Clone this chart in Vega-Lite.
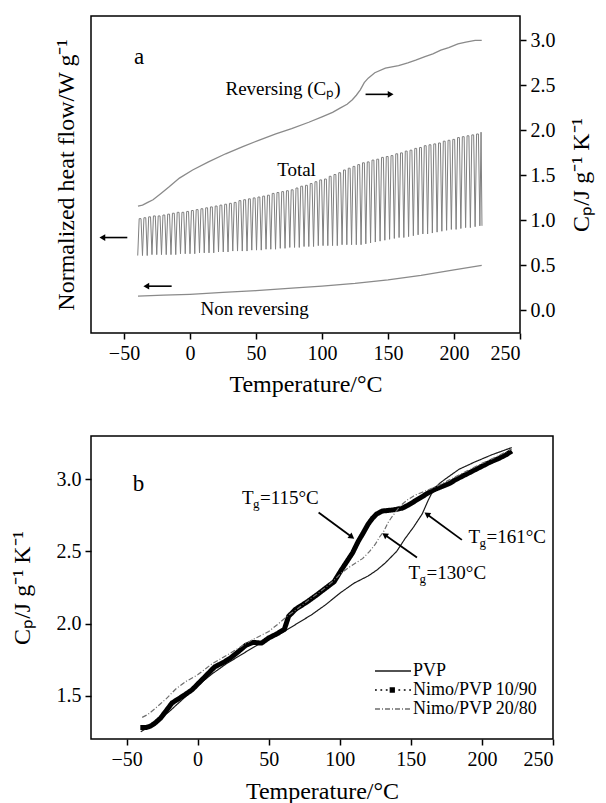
{
"$schema":"https://vega.github.io/schema/vega-lite/v6.json",
"padding":{"left":9,"top":15,"right":2,"bottom":0},
"spacing":38,
"resolve":{"legend":{"color":"independent"}},
"config":{
 "font":"Liberation Serif",
 "view":{"stroke":"black","strokeWidth":1.5},
 "axis":{"labelFont":"Liberation Serif","titleFont":"Liberation Serif","labelFontSize":20,"titleFontSize":24,"titleFontWeight":"normal","labelColor":"black","titleColor":"black","domain":false,"grid":false,"tickColor":"black","tickSize":6,"tickWidth":1.5,"labelPadding":4},
 "text":{"font":"Liberation Serif","color":"black"}
},
"datasets":{
 "total":[
{"t":-39.6,"v":0.61},{"t":-38.5,"v":1.02},{"t":-37.1,"v":1.02},
{"t":-36,"v":0.61},{"t":-34.9,"v":1.03},{"t":-33.5,"v":1.03},
{"t":-32.4,"v":0.61},{"t":-31.3,"v":1.04},{"t":-29.9,"v":1.04},
{"t":-28.8,"v":0.62},{"t":-27.7,"v":1.05},{"t":-26.3,"v":1.05},
{"t":-25.2,"v":0.62},{"t":-24.1,"v":1.05},{"t":-22.7,"v":1.05},
{"t":-21.6,"v":0.62},{"t":-20.5,"v":1.06},{"t":-19.1,"v":1.06},
{"t":-18,"v":0.62},{"t":-16.9,"v":1.07},{"t":-15.5,"v":1.07},
{"t":-14.4,"v":0.62},{"t":-13.3,"v":1.08},{"t":-11.9,"v":1.08},
{"t":-10.8,"v":0.62},{"t":-9.7,"v":1.09},{"t":-8.3,"v":1.09},
{"t":-7.2,"v":0.63},{"t":-6.1,"v":1.09},{"t":-4.7,"v":1.09},
{"t":-3.6,"v":0.63},{"t":-2.5,"v":1.10},{"t":-1.1,"v":1.10},
{"t":0,"v":0.63},{"t":1.1,"v":1.11},{"t":2.5,"v":1.11},
{"t":3.6,"v":0.63},{"t":4.7,"v":1.12},{"t":6.1,"v":1.12},
{"t":7.2,"v":0.64},{"t":8.3,"v":1.13},{"t":9.7,"v":1.13},
{"t":10.8,"v":0.64},{"t":11.9,"v":1.14},{"t":13.3,"v":1.14},
{"t":14.4,"v":0.64},{"t":15.5,"v":1.15},{"t":16.9,"v":1.15},
{"t":18,"v":0.64},{"t":19.1,"v":1.16},{"t":20.5,"v":1.16},
{"t":21.6,"v":0.65},{"t":22.7,"v":1.17},{"t":24.1,"v":1.17},
{"t":25.2,"v":0.65},{"t":26.3,"v":1.18},{"t":27.7,"v":1.18},
{"t":28.8,"v":0.65},{"t":29.9,"v":1.19},{"t":31.3,"v":1.19},
{"t":32.4,"v":0.66},{"t":33.5,"v":1.20},{"t":34.9,"v":1.20},
{"t":36,"v":0.66},{"t":37.1,"v":1.22},{"t":38.5,"v":1.22},
{"t":39.6,"v":0.66},{"t":40.7,"v":1.23},{"t":42.1,"v":1.23},
{"t":43.2,"v":0.66},{"t":44.3,"v":1.24},{"t":45.7,"v":1.24},
{"t":46.8,"v":0.67},{"t":47.9,"v":1.25},{"t":49.3,"v":1.25},
{"t":50.4,"v":0.67},{"t":51.5,"v":1.26},{"t":52.9,"v":1.26},
{"t":54,"v":0.67},{"t":55.1,"v":1.27},{"t":56.5,"v":1.27},
{"t":57.6,"v":0.68},{"t":58.7,"v":1.28},{"t":60.1,"v":1.28},
{"t":61.2,"v":0.68},{"t":62.3,"v":1.30},{"t":63.7,"v":1.30},
{"t":64.8,"v":0.68},{"t":65.9,"v":1.31},{"t":67.3,"v":1.31},
{"t":68.4,"v":0.69},{"t":69.5,"v":1.32},{"t":70.9,"v":1.32},
{"t":72,"v":0.69},{"t":73.1,"v":1.33},{"t":74.5,"v":1.33},
{"t":75.6,"v":0.70},{"t":76.7,"v":1.34},{"t":78.1,"v":1.34},
{"t":79.2,"v":0.70},{"t":80.3,"v":1.36},{"t":81.7,"v":1.36},
{"t":82.8,"v":0.70},{"t":83.9,"v":1.38},{"t":85.3,"v":1.38},
{"t":86.4,"v":0.71},{"t":87.5,"v":1.39},{"t":88.9,"v":1.39},
{"t":90,"v":0.71},{"t":91.1,"v":1.41},{"t":92.5,"v":1.41},
{"t":93.6,"v":0.71},{"t":94.7,"v":1.43},{"t":96.1,"v":1.43},
{"t":97.2,"v":0.72},{"t":98.3,"v":1.45},{"t":99.7,"v":1.45},
{"t":100.8,"v":0.72},{"t":101.9,"v":1.46},{"t":103.3,"v":1.46},
{"t":104.4,"v":0.72},{"t":105.5,"v":1.49},{"t":106.9,"v":1.49},
{"t":108,"v":0.72},{"t":109.1,"v":1.51},{"t":110.5,"v":1.51},
{"t":111.6,"v":0.72},{"t":112.7,"v":1.53},{"t":114.1,"v":1.53},
{"t":115.2,"v":0.73},{"t":116.3,"v":1.56},{"t":117.7,"v":1.56},
{"t":118.8,"v":0.73},{"t":119.9,"v":1.58},{"t":121.3,"v":1.58},
{"t":122.4,"v":0.73},{"t":123.5,"v":1.60},{"t":124.9,"v":1.60},
{"t":126,"v":0.73},{"t":127.1,"v":1.62},{"t":128.5,"v":1.62},
{"t":129.6,"v":0.73},{"t":130.7,"v":1.64},{"t":132.1,"v":1.64},
{"t":133.2,"v":0.74},{"t":134.3,"v":1.65},{"t":135.7,"v":1.65},
{"t":136.8,"v":0.75},{"t":137.9,"v":1.67},{"t":139.3,"v":1.67},
{"t":140.4,"v":0.76},{"t":141.5,"v":1.68},{"t":142.9,"v":1.68},
{"t":144,"v":0.77},{"t":145.1,"v":1.70},{"t":146.5,"v":1.70},
{"t":147.6,"v":0.78},{"t":148.7,"v":1.71},{"t":150.1,"v":1.71},
{"t":151.2,"v":0.79},{"t":152.3,"v":1.72},{"t":153.7,"v":1.72},
{"t":154.8,"v":0.80},{"t":155.9,"v":1.74},{"t":157.3,"v":1.74},
{"t":158.4,"v":0.81},{"t":159.5,"v":1.75},{"t":160.9,"v":1.75},
{"t":162,"v":0.81},{"t":163.1,"v":1.77},{"t":164.5,"v":1.77},
{"t":165.6,"v":0.82},{"t":166.7,"v":1.78},{"t":168.1,"v":1.78},
{"t":169.2,"v":0.83},{"t":170.3,"v":1.80},{"t":171.7,"v":1.80},
{"t":172.8,"v":0.84},{"t":173.9,"v":1.81},{"t":175.3,"v":1.81},
{"t":176.4,"v":0.85},{"t":177.5,"v":1.83},{"t":178.9,"v":1.83},
{"t":180,"v":0.85},{"t":181.1,"v":1.84},{"t":182.5,"v":1.84},
{"t":183.6,"v":0.86},{"t":184.7,"v":1.85},{"t":186.1,"v":1.85},
{"t":187.2,"v":0.87},{"t":188.3,"v":1.86},{"t":189.7,"v":1.86},
{"t":190.8,"v":0.88},{"t":191.9,"v":1.88},{"t":193.3,"v":1.88},
{"t":194.4,"v":0.89},{"t":195.5,"v":1.89},{"t":196.9,"v":1.89},
{"t":198,"v":0.90},{"t":199.1,"v":1.90},{"t":200.5,"v":1.90},
{"t":201.6,"v":0.90},{"t":202.7,"v":1.92},{"t":204.1,"v":1.92},
{"t":205.2,"v":0.91},{"t":206.3,"v":1.93},{"t":207.7,"v":1.93},
{"t":208.8,"v":0.92},{"t":209.9,"v":1.94},{"t":211.3,"v":1.94},
{"t":212.4,"v":0.92},{"t":213.5,"v":1.95},{"t":214.9,"v":1.95},
{"t":216,"v":0.93},{"t":217.1,"v":1.96},{"t":218.5,"v":1.96},
{"t":219.6,"v":0.94},{"t":220.5,"v":1.98},{"t":221.2,"v":0.94}
 ],
 "curvesA":[
{"s":"rev","t":-39.4,"v":1.16},{"s":"rev","t":-36,"v":1.17},{"s":"rev","t":-32,"v":1.20},{"s":"rev","t":-28,"v":1.23},{"s":"rev","t":-22,"v":1.30},{"s":"rev","t":-16,"v":1.37},{"s":"rev","t":-8,"v":1.47},{"s":"rev","t":2,"v":1.56},{"s":"rev","t":14,"v":1.65},{"s":"rev","t":27,"v":1.74},{"s":"rev","t":40,"v":1.82},{"s":"rev","t":52,"v":1.89},{"s":"rev","t":65,"v":1.96},{"s":"rev","t":77,"v":2.02},{"s":"rev","t":90,"v":2.09},{"s":"rev","t":100,"v":2.15},{"s":"rev","t":108,"v":2.20},{"s":"rev","t":114,"v":2.25},{"s":"rev","t":119,"v":2.29},{"s":"rev","t":123,"v":2.34},{"s":"rev","t":126,"v":2.39},{"s":"rev","t":129,"v":2.45},{"s":"rev","t":132,"v":2.53},{"s":"rev","t":135,"v":2.58},{"s":"rev","t":140,"v":2.64},{"s":"rev","t":148,"v":2.69},{"s":"rev","t":158,"v":2.72},{"s":"rev","t":165,"v":2.75},{"s":"rev","t":171,"v":2.78},{"s":"rev","t":178,"v":2.82},{"s":"rev","t":184,"v":2.85},{"s":"rev","t":190,"v":2.89},{"s":"rev","t":196,"v":2.92},{"s":"rev","t":203,"v":2.96},{"s":"rev","t":209,"v":2.98},{"s":"rev","t":216,"v":3.00},{"s":"rev","t":221,"v":3.00},
{"s":"non","t":-39.4,"v":0.16},{"s":"non","t":-20,"v":0.17},{"s":"non","t":0,"v":0.18},{"s":"non","t":25,"v":0.20},{"s":"non","t":50,"v":0.22},{"s":"non","t":80,"v":0.25},{"s":"non","t":100,"v":0.27},{"s":"non","t":125,"v":0.30},{"s":"non","t":150,"v":0.34},{"s":"non","t":175,"v":0.39},{"s":"non","t":200,"v":0.45},{"s":"non","t":221,"v":0.50}
 ],
 "arrowsA":[
{"t":133,"t2":152,"v":2.40,"dir":"right"},
{"t":-47.5,"t2":-66.4,"v":0.81,"dir":"left"},
{"t":-13.9,"t2":-33.1,"v":0.27,"dir":"left"}
 ],
 "textA":[
{"t":70.5,"v":2.46,"label":"Reversing (Cₚ)"},
{"t":80.7,"v":1.56,"label":"Total"},
{"t":48.9,"v":0.02,"label":"Non reversing"}
 ],
 "curvesB":[
{"s":"PVP","t":-40,"v":1.25},{"s":"PVP","t":-35,"v":1.28},{"s":"PVP","t":-30,"v":1.31},{"s":"PVP","t":-20,"v":1.39},{"s":"PVP","t":-10,"v":1.48},{"s":"PVP","t":0,"v":1.57},{"s":"PVP","t":10,"v":1.65},{"s":"PVP","t":20,"v":1.72},{"s":"PVP","t":30,"v":1.78},{"s":"PVP","t":40,"v":1.84},{"s":"PVP","t":50,"v":1.89},{"s":"PVP","t":60,"v":1.94},{"s":"PVP","t":70,"v":2.00},{"s":"PVP","t":80,"v":2.06},{"s":"PVP","t":90,"v":2.13},{"s":"PVP","t":100,"v":2.21},{"s":"PVP","t":110,"v":2.28},{"s":"PVP","t":120,"v":2.33},{"s":"PVP","t":126,"v":2.37},{"s":"PVP","t":132,"v":2.42},{"s":"PVP","t":140,"v":2.50},{"s":"PVP","t":146,"v":2.59},{"s":"PVP","t":152,"v":2.67},{"s":"PVP","t":158,"v":2.76},{"s":"PVP","t":162,"v":2.85},{"s":"PVP","t":166,"v":2.93},{"s":"PVP","t":170,"v":2.97},{"s":"PVP","t":174,"v":3.00},{"s":"PVP","t":184,"v":3.07},{"s":"PVP","t":195,"v":3.12},{"s":"PVP","t":207,"v":3.17},{"s":"PVP","t":221,"v":3.22},
{"s":"Nimo/PVP 10/90","t":-40.3,"v":1.28},{"s":"Nimo/PVP 10/90","t":-36,"v":1.28},{"s":"Nimo/PVP 10/90","t":-33,"v":1.29},{"s":"Nimo/PVP 10/90","t":-30,"v":1.31},{"s":"Nimo/PVP 10/90","t":-26,"v":1.345},{"s":"Nimo/PVP 10/90","t":-18,"v":1.45},{"s":"Nimo/PVP 10/90","t":-10,"v":1.50},{"s":"Nimo/PVP 10/90","t":-4,"v":1.54},{"s":"Nimo/PVP 10/90","t":0,"v":1.58},{"s":"Nimo/PVP 10/90","t":6,"v":1.64},{"s":"Nimo/PVP 10/90","t":12,"v":1.70},{"s":"Nimo/PVP 10/90","t":18,"v":1.73},{"s":"Nimo/PVP 10/90","t":23,"v":1.76},{"s":"Nimo/PVP 10/90","t":28,"v":1.80},{"s":"Nimo/PVP 10/90","t":34,"v":1.85},{"s":"Nimo/PVP 10/90","t":39,"v":1.87},{"s":"Nimo/PVP 10/90","t":45,"v":1.865},{"s":"Nimo/PVP 10/90","t":50,"v":1.90},{"s":"Nimo/PVP 10/90","t":56,"v":1.93},{"s":"Nimo/PVP 10/90","t":61,"v":1.96},{"s":"Nimo/PVP 10/90","t":64,"v":2.05},{"s":"Nimo/PVP 10/90","t":69,"v":2.10},{"s":"Nimo/PVP 10/90","t":77,"v":2.15},{"s":"Nimo/PVP 10/90","t":84,"v":2.20},{"s":"Nimo/PVP 10/90","t":90,"v":2.245},{"s":"Nimo/PVP 10/90","t":96,"v":2.29},{"s":"Nimo/PVP 10/90","t":101,"v":2.37},{"s":"Nimo/PVP 10/90","t":105,"v":2.43},{"s":"Nimo/PVP 10/90","t":109,"v":2.49},{"s":"Nimo/PVP 10/90","t":113,"v":2.57},{"s":"Nimo/PVP 10/90","t":116,"v":2.62},{"s":"Nimo/PVP 10/90","t":120,"v":2.69},{"s":"Nimo/PVP 10/90","t":123,"v":2.73},{"s":"Nimo/PVP 10/90","t":126,"v":2.76},{"s":"Nimo/PVP 10/90","t":130,"v":2.78},{"s":"Nimo/PVP 10/90","t":135,"v":2.785},{"s":"Nimo/PVP 10/90","t":139,"v":2.79},{"s":"Nimo/PVP 10/90","t":144,"v":2.80},{"s":"Nimo/PVP 10/90","t":148,"v":2.82},{"s":"Nimo/PVP 10/90","t":153,"v":2.85},{"s":"Nimo/PVP 10/90","t":158,"v":2.88},{"s":"Nimo/PVP 10/90","t":163,"v":2.91},{"s":"Nimo/PVP 10/90","t":167,"v":2.93},{"s":"Nimo/PVP 10/90","t":172,"v":2.95},{"s":"Nimo/PVP 10/90","t":177,"v":2.97},{"s":"Nimo/PVP 10/90","t":182,"v":3.00},{"s":"Nimo/PVP 10/90","t":188,"v":3.03},{"s":"Nimo/PVP 10/90","t":194,"v":3.06},{"s":"Nimo/PVP 10/90","t":200,"v":3.09},{"s":"Nimo/PVP 10/90","t":206,"v":3.12},{"s":"Nimo/PVP 10/90","t":212,"v":3.145},{"s":"Nimo/PVP 10/90","t":217,"v":3.17},{"s":"Nimo/PVP 10/90","t":221,"v":3.196},
{"s":"Nimo/PVP 20/80","t":-39,"v":1.35},{"s":"Nimo/PVP 20/80","t":-35,"v":1.37},{"s":"Nimo/PVP 20/80","t":-30,"v":1.41},{"s":"Nimo/PVP 20/80","t":-22,"v":1.48},{"s":"Nimo/PVP 20/80","t":-15,"v":1.55},{"s":"Nimo/PVP 20/80","t":-8,"v":1.60},{"s":"Nimo/PVP 20/80","t":0,"v":1.645},{"s":"Nimo/PVP 20/80","t":10,"v":1.72},{"s":"Nimo/PVP 20/80","t":23,"v":1.795},{"s":"Nimo/PVP 20/80","t":32,"v":1.85},{"s":"Nimo/PVP 20/80","t":39,"v":1.89},{"s":"Nimo/PVP 20/80","t":50,"v":1.945},{"s":"Nimo/PVP 20/80","t":57,"v":2.00},{"s":"Nimo/PVP 20/80","t":64,"v":2.06},{"s":"Nimo/PVP 20/80","t":70,"v":2.10},{"s":"Nimo/PVP 20/80","t":77,"v":2.155},{"s":"Nimo/PVP 20/80","t":84,"v":2.205},{"s":"Nimo/PVP 20/80","t":90,"v":2.25},{"s":"Nimo/PVP 20/80","t":96,"v":2.30},{"s":"Nimo/PVP 20/80","t":101,"v":2.35},{"s":"Nimo/PVP 20/80","t":108,"v":2.40},{"s":"Nimo/PVP 20/80","t":116,"v":2.45},{"s":"Nimo/PVP 20/80","t":121,"v":2.50},{"s":"Nimo/PVP 20/80","t":125,"v":2.55},{"s":"Nimo/PVP 20/80","t":128,"v":2.60},{"s":"Nimo/PVP 20/80","t":131,"v":2.64},{"s":"Nimo/PVP 20/80","t":134,"v":2.70},{"s":"Nimo/PVP 20/80","t":136,"v":2.73},{"s":"Nimo/PVP 20/80","t":139,"v":2.77},{"s":"Nimo/PVP 20/80","t":143,"v":2.82},{"s":"Nimo/PVP 20/80","t":148,"v":2.86},{"s":"Nimo/PVP 20/80","t":153,"v":2.89},{"s":"Nimo/PVP 20/80","t":158,"v":2.91},{"s":"Nimo/PVP 20/80","t":168,"v":2.95},{"s":"Nimo/PVP 20/80","t":178,"v":3.00},{"s":"Nimo/PVP 20/80","t":190,"v":3.06},{"s":"Nimo/PVP 20/80","t":200,"v":3.11},{"s":"Nimo/PVP 20/80","t":211,"v":3.16},{"s":"Nimo/PVP 20/80","t":221,"v":3.21}
 ],
 "tgB":[
{"lab":"115","t":31.2,"v":2.87,"r":"=115°C","ta":85.1,"va":2.77,"tb":108.5,"vb":2.60},
{"lab":"130","t":148.4,"v":2.35,"r":"=130°C","ta":154.3,"va":2.458,"tb":131.6,"vb":2.615},
{"lab":"161","t":190.6,"v":2.60,"r":"=161°C","ta":185.9,"va":2.58,"tb":161.3,"vb":2.758}
 ]
},
"vconcat":[
 {
  "width":429,"height":317,
  "resolve":{"scale":{"y":"independent"},"axis":{"y":"independent"}},
  "layer":[
   {
    "data":{"name":"total"},
    "mark":{"type":"line","color":"#808080","strokeWidth":1},
    "encoding":{
     "x":{"field":"t","type":"quantitative","scale":{"domain":[-75,250],"nice":false,"zero":false},"axis":{"values":[-50,0,50,100,150,200,250],"title":"Temperature/°C","titlePadding":9}},
     "y":{"field":"v","type":"quantitative","scale":{"domain":[-0.25,3.27],"nice":false,"zero":false},"axis":{"orient":"left","title":"Normalized heat flow/W g⁻¹","labels":false,"ticks":false,"titlePadding":13}}
    }
   },
   {
    "encoding":{
     "x":{"field":"t","type":"quantitative","scale":{"domain":[-75,250],"nice":false,"zero":false},"axis":{"values":[-50,0,50,100,150,200,250],"title":"Temperature/°C","titlePadding":9}},
     "y":{"field":"v","type":"quantitative","scale":{"domain":[-0.25,3.27],"nice":false,"zero":false},"axis":{"orient":"right","values":[0,0.5,1,1.5,2,2.5,3],"format":".1f","title":"Cₚ/J g⁻¹ K⁻¹","titleAngle":270,"titlePadding":38}}
    },
    "layer":[
     {"data":{"name":"curvesA"},"mark":{"type":"line","color":"#8a8a8a","strokeWidth":1.3},"encoding":{"detail":{"field":"s"}}},
     {"data":{"name":"arrowsA"},"mark":{"type":"rule","color":"black","strokeWidth":1.6},"encoding":{"x2":{"field":"t2"}}},
     {"data":{"name":"arrowsA"},"mark":{"type":"point","filled":true,"color":"black","size":45,"opacity":1},"encoding":{"x":{"field":"t2","type":"quantitative"},"shape":{"field":"dir","type":"nominal","scale":{"domain":["left","right"],"range":["triangle-left","triangle-right"]},"legend":null}}},
     {"data":{"name":"textA"},"mark":{"type":"text","fontSize":19,"baseline":"middle"},"encoding":{"text":{"field":"label"}}},
     {"data":{"values":[{"t":-38.6,"v":2.81,"label":"a"}]},"mark":{"type":"text","fontSize":23,"baseline":"middle"},"encoding":{"text":{"field":"label"}}}
    ]
   }
  ]
 },
 {
  "width":462,"height":303,
  "encoding":{
   "x":{"field":"t","type":"quantitative","scale":{"domain":[-75,250],"nice":false,"zero":false},"axis":{"values":[-50,0,50,100,150,200,250],"title":"Temperature/°C","titlePadding":10}},
   "y":{"field":"v","type":"quantitative","scale":{"domain":[1.2,3.3],"nice":false,"zero":false},"axis":{"values":[1.5,2,2.5,3],"format":".1f","title":"Cₚ/J g⁻¹ K⁻¹","titlePadding":22}}
  },
  "layer":[
   {
    "data":{"name":"curvesB"},
    "mark":{"type":"line"},
    "encoding":{
     "color":{"field":"s","type":"nominal","scale":{"domain":["PVP","Nimo/PVP 10/90","Nimo/PVP 20/80"],"range":["#1a1a1a","#000000","#6e6e6e"]},
      "legend":{"title":null,"orient":"none","legendX":292,"legendY":225,"padding":0,"symbolType":"stroke","symbolSize":324,"symbolStrokeWidth":1.3,"labelFontSize":18,"labelFont":"Liberation Serif","labelColor":"black","rowPadding":0,"labelOffset":10,
       "encode":{"symbols":{"update":{
        "strokeWidth":{"value":1.3},
        "shape":{"signal":"datum.value === 'Nimo/PVP 10/90' ? 'M-2,0H-1.8M-1.4,0H-1.2M-0.8,0H-0.6M-0.3,-0.22H0.14V0.22H-0.3ZM0.6,0H0.8M1.2,0H1.4M1.8,0H2' : 'M-2,0H2'"},
        "fill":{"signal":"datum.value === 'Nimo/PVP 10/90' ? 'black' : 'transparent'"},
        "strokeDash":{"signal":"datum.value === 'Nimo/PVP 20/80' ? [5,2,1,2] : [1,0]"}}}}}},
     "strokeDash":{"field":"s","type":"nominal","scale":{"domain":["PVP","Nimo/PVP 10/90","Nimo/PVP 20/80"],"range":[[1,0],[1,0],[5,2,1,2]]},"legend":null},
     "strokeWidth":{"field":"s","type":"nominal","scale":{"type":"ordinal","domain":["PVP","Nimo/PVP 10/90","Nimo/PVP 20/80"],"range":[1.2,5,1.2]},"legend":null}
    }
   },
   {"data":{"name":"tgB"},"mark":{"type":"rule","color":"black","strokeWidth":1.8},"encoding":{"x":{"field":"ta","type":"quantitative"},"y":{"field":"va","type":"quantitative"},"x2":{"field":"tb"},"y2":{"field":"vb"}}},
   {"data":{"name":"tgB"},"transform":[{"filter":"datum.lab == '115'"}],"mark":{"type":"point","filled":true,"color":"black","size":45,"opacity":1,"shape":"triangle-right","angle":36},"encoding":{"x":{"field":"tb","type":"quantitative"},"y":{"field":"vb","type":"quantitative"}}},
   {"data":{"name":"tgB"},"transform":[{"filter":"datum.lab != '115'"}],"mark":{"type":"point","filled":true,"color":"black","size":45,"opacity":1,"shape":"triangle-left","angle":35},"encoding":{"x":{"field":"tb","type":"quantitative"},"y":{"field":"vb","type":"quantitative"}}},
   {"data":{"name":"tgB"},"mark":{"type":"text","fontSize":19,"align":"left","baseline":"middle","text":"T"}},
   {"data":{"name":"tgB"},"mark":{"type":"text","fontSize":13,"align":"left","baseline":"middle","text":"g","dx":11,"dy":6}},
   {"data":{"name":"tgB"},"mark":{"type":"text","fontSize":19,"align":"left","baseline":"middle","dx":18},"encoding":{"text":{"field":"r"}}},
   {"data":{"values":[{"t":-41.5,"v":2.97,"label":"b"}]},"mark":{"type":"text","fontSize":23,"baseline":"middle"},"encoding":{"text":{"field":"label"}}}
  ]
 }
]
}
